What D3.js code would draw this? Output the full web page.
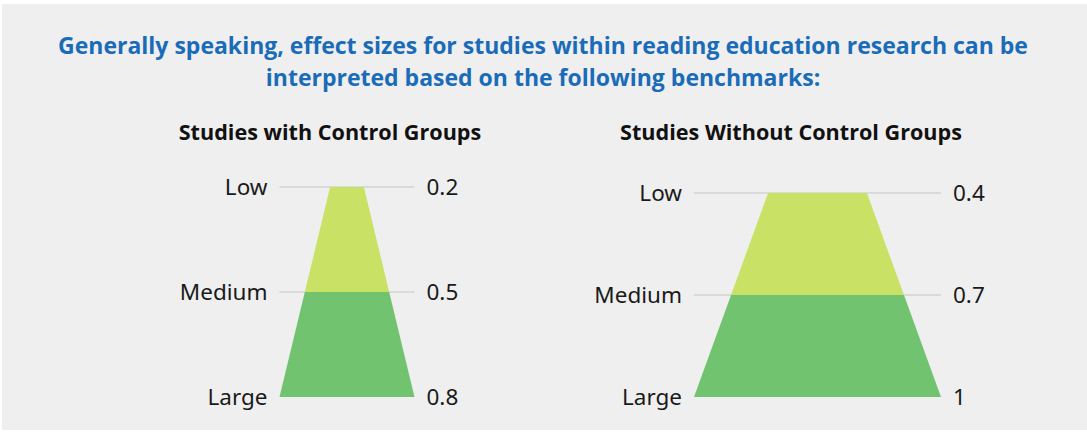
<!DOCTYPE html>
<html>
<head>
<meta charset="utf-8">
<script src="https://cdn.jsdelivr.net/npm/d3@7"></script>
<style>
  body { margin: 0; background: #fff; }
  svg { display: block; }
</style>
</head>
<body>
<svg id="chart" width="1087" height="432"></svg>
<script>
// benchmark data
var levels = ["Low", "Medium", "Large"];
var withControl = [0.2, 0.5, 0.8];
var withoutControl = [0.4, 0.7, 1];
var withLabels = ["0.2", "0.5", "0.8"];
var withoutLabels = ["0.4", "0.7", "1"];
var panelTitles = ["Studies with Control Groups", "Studies Without Control Groups"];
var headline = ["Generally speaking, effect sizes for studies within reading education research can be",
                "interpreted based on the following benchmarks:"];

var svg = d3.select("#chart");

// grey panel
svg.append("rect")
    .attr("x", 2).attr("y", 4)
    .attr("width", 1085).attr("height", 426)
    .attr("fill", "#efefef");

// headline
svg.selectAll(".headline")
    .data(headline)
    .enter().append("text")
    .attr("class", "headline")
    .attr("x", 543)
    .attr("y", function(d, i){ return 54 + i * 32; })
    .attr("text-anchor", "middle")
    .style("font-family", "'Open Sans', sans-serif")
    .style("font-weight", 700)
    .style("font-size", "23px")
    .attr("fill", "#1a6cb8")
    .text(function(d){ return d; });

var colors = ["#c9e265", "#72c370"];

// one funnel per panel
drawFunnel({title: panelTitles[0], titleX: 330, cx: 347, top: 187, bottom: 397, width: 135,
            values: withControl, labels: withLabels});
drawFunnel({title: panelTitles[1], titleX: 791, cx: 817.5, top: 193, bottom: 397, width: 247,
            values: withoutControl, labels: withoutLabels});

function drawFunnel(opt){
    var g = svg.append("g");

    var y = d3.scalePoint()
        .domain(levels)
        .range([opt.top, opt.bottom]);

    var w = d3.scaleLinear()
        .domain([0, d3.max(opt.values)])
        .range([0, opt.width]);

    var left = opt.cx - opt.width / 2,
        right = opt.cx + opt.width / 2;

    g.append("text")
        .attr("x", opt.titleX)
        .attr("y", 140)
        .attr("text-anchor", "middle")
        .style("font-family", "'Open Sans', sans-serif")
        .style("font-weight", 700)
        .style("font-size", "21.6px")
        .attr("fill", "#111")
        .text(opt.title);

    // gridlines (not on the last level, the funnel base covers it)
    g.selectAll(".grid")
        .data(levels.slice(0, -1))
        .enter().append("line")
        .attr("x1", left).attr("x2", right)
        .attr("y1", function(d){ return y(d); })
        .attr("y2", function(d){ return y(d); })
        .attr("stroke", "#c6c6c6")
        .attr("stroke-width", 1.2);

    // bands between consecutive levels
    var bands = d3.range(levels.length - 1);
    g.selectAll(".band")
        .data(bands)
        .enter().append("path")
        .attr("fill", function(d){ return colors[d]; })
        .attr("d", function(i){
            var y0 = y(levels[i]), y1 = y(levels[i + 1]),
                w0 = w(opt.values[i]) / 2, w1 = w(opt.values[i + 1]) / 2;
            return "M" + (opt.cx - w0) + "," + y0 +
                   "L" + (opt.cx + w0) + "," + y0 +
                   "L" + (opt.cx + w1) + "," + y1 +
                   "L" + (opt.cx - w1) + "," + y1 + "Z";
        });

    // level names on the left
    g.selectAll(".lvl")
        .data(levels)
        .enter().append("text")
        .attr("x", left - 12)
        .attr("y", function(d){ return y(d); })
        .attr("dy", "0.36em")
        .attr("text-anchor", "end")
        .style("font-family", "'Noto Sans', sans-serif")
        .style("font-size", "22.5px")
        .attr("fill", "#1a1a1a")
        .text(function(d){ return d; });

    // values on the right
    g.selectAll(".val")
        .data(opt.labels)
        .enter().append("text")
        .attr("x", right + 12)
        .attr("y", function(d, i){ return y(levels[i]); })
        .attr("dy", "0.36em")
        .style("font-family", "'Noto Sans', sans-serif")
        .style("font-size", "22.5px")
        .attr("fill", "#1a1a1a")
        .text(function(d){ return d; });
}
</script>
</body>
</html>
